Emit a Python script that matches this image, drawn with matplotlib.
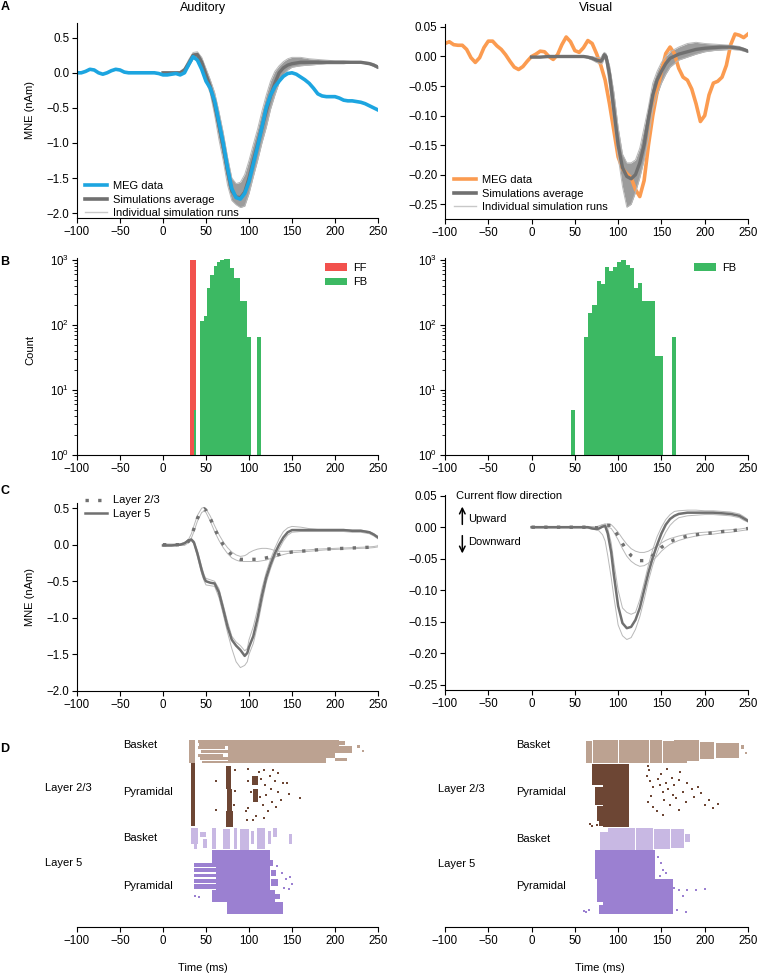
import numpy as np
import matplotlib
matplotlib.use('Agg')
import matplotlib.pyplot as plt
from matplotlib.lines import Line2D

plt.rcParams['font.family'] = ['Liberation Sans', 'DejaVu Sans']
plt.rcParams['font.size'] = 8
plt.rcParams['axes.linewidth'] = 0.8

# ***** datos
# MEG (cada 5 ms de -100 a 250)
t_meg = np.arange(-100, 251, 5)
aud_meg = [0.0, 0.0, 0.02, 0.05, 0.04, 0.0, -0.02, 0.0, 0.03, 0.05, 0.04, 0.01, 0.0, 0.0, 0.0, 0.0, 0.0, 0.0, 0.0, -0.01,
           -0.03, -0.03, -0.02, -0.01, -0.03, 0.0, 0.12, 0.23, 0.18, 0.05, -0.12, -0.22, -0.4, -0.7, -1.0, -1.35, -1.65,
           -1.78, -1.8, -1.72, -1.55, -1.3, -1.05, -0.78, -0.5, -0.32, -0.2, -0.12, -0.05, -0.01, 0.0, -0.02, -0.06,
           -0.1, -0.15, -0.22, -0.3, -0.33, -0.34, -0.34, -0.34, -0.36, -0.39, -0.4, -0.4, -0.41, -0.42, -0.44, -0.47,
           -0.5, -0.53]
vis_meg = [0.022, 0.025, 0.02, 0.019, 0.019, 0.012, -0.002, -0.01, -0.002, 0.015, 0.026, 0.026, 0.018, 0.012, 0.003,
           -0.008, -0.018, -0.022, -0.017, -0.008, 0.0, 0.004, 0.009, 0.008, 0.0, -0.005, 0.003, 0.02, 0.033, 0.025,
           0.01, 0.007, 0.015, 0.027, 0.022, 0.005, -0.015, -0.04, -0.08, -0.125, -0.17, -0.19, -0.198, -0.205,
           -0.225, -0.237, -0.21, -0.15, -0.1, -0.06, -0.025, 0.005, 0.016, 0.005, -0.02, -0.035, -0.04, -0.055,
           -0.08, -0.11, -0.1, -0.065, -0.045, -0.042, -0.035, -0.015, 0.02, 0.038, 0.036, 0.032, 0.038]

# simulaciones auditivas
t_aud = [0, 10, 20, 25, 30, 35, 40, 45, 50, 55, 60, 65, 70, 75, 80, 85, 90, 95, 100, 105, 110, 115, 120, 125, 130,
         135, 140, 145, 150, 160, 170, 180, 190, 200, 210, 220, 230, 240, 245, 250]
aud_avg = [0.0, 0.0, 0.0, 0.04, 0.14, 0.25, 0.26, 0.15, -0.03, -0.2, -0.45, -0.75, -1.05, -1.4, -1.68, -1.77, -1.78,
           -1.7, -1.5, -1.25, -1.02, -0.78, -0.55, -0.33, -0.15, 0.0, 0.07, 0.11, 0.13, 0.15, 0.15, 0.15, 0.15, 0.15,
           0.15, 0.15, 0.15, 0.13, 0.11, 0.08]
aud_hi = [0.01, 0.01, 0.02, 0.07, 0.19, 0.29, 0.3, 0.22, 0.06, -0.1, -0.28, -0.55, -0.85, -1.2, -1.5, -1.58, -1.56,
          -1.45, -1.25, -1.02, -0.8, -0.55, -0.32, -0.12, 0.02, 0.1, 0.16, 0.2, 0.22, 0.22, 0.2, 0.19, 0.18, 0.17,
          0.17, 0.16, 0.16, 0.15, 0.13, 0.1]
aud_lo = [-0.01, -0.01, -0.01, 0.01, 0.09, 0.2, 0.2, 0.06, -0.12, -0.3, -0.6, -0.95, -1.25, -1.6, -1.82, -1.88, -1.92,
          -1.9, -1.72, -1.48, -1.25, -1.0, -0.78, -0.52, -0.32, -0.14, -0.03, 0.04, 0.08, 0.1, 0.11, 0.12, 0.13,
          0.13, 0.13, 0.14, 0.14, 0.12, 0.09, 0.06]

# simulaciones visuales
t_vis = [0, 10, 20, 30, 40, 50, 60, 65, 70, 75, 80, 82, 84, 86, 88, 90, 95, 100, 105, 110, 115, 120, 125, 130, 135,
         140, 145, 150, 155, 160, 170, 180, 190, 200, 210, 220, 230, 240, 245, 250]
vis_avg = [-0.001, -0.001, 0.0, 0.0, 0.0, 0.0, 0.0, -0.001, -0.003, -0.006, -0.008, -0.004, 0.003, 0.0, -0.015, -0.03,
           -0.09, -0.15, -0.188, -0.203, -0.207, -0.2, -0.18, -0.15, -0.105, -0.065, -0.04, -0.025, -0.012, -0.003,
           0.004, 0.008, 0.012, 0.014, 0.015, 0.016, 0.016, 0.014, 0.012, 0.009]
vis_hi = [0.0, 0.0, 0.0, 0.0, 0.0, 0.001, 0.001, 0.0, 0.0, -0.002, -0.002, 0.003, 0.007, 0.005, -0.005, -0.015, -0.06,
          -0.12, -0.165, -0.18, -0.18, -0.175, -0.155, -0.12, -0.085, -0.045, -0.025, -0.01, 0.0, 0.008, 0.016,
          0.022, 0.024, 0.022, 0.021, 0.02, 0.019, 0.017, 0.014, 0.011]
vis_lo = [-0.002, -0.002, -0.001, -0.001, -0.001, -0.001, -0.001, -0.003, -0.006, -0.01, -0.013, -0.01, -0.003, -0.008,
          -0.03, -0.05, -0.11, -0.17, -0.22, -0.255, -0.25, -0.23, -0.205, -0.175, -0.14, -0.09, -0.065, -0.045,
          -0.03, -0.018, -0.006, -0.001, 0.004, 0.008, 0.01, 0.011, 0.012, 0.011, 0.009, 0.007]

# histogramas de entradas (FF / FB)
aud_ff_left = [31.7]
aud_ff_right = [38.2]
aud_ff_count = [1000]
aud_fb_left = [35.5, 43.3, 47.2, 51.1, 55.0, 58.9, 62.8, 66.7, 70.6, 74.5, 78.4, 82.3, 86.2, 90.1, 94.0, 97.9, 109.6]
aud_fb_right = [38.6, 47.2, 51.1, 55.0, 58.9, 62.8, 66.7, 70.6, 74.5, 78.4, 82.3, 86.2, 90.1, 94.0, 97.9, 101.8, 113.5]
aud_fb_count = [5, 117, 137, 366, 588, 818, 921, 1000, 1040, 1040, 745, 525, 525, 235, 235, 66, 66]
vis_fb_left = [45.6, 60.6, 65.4, 70.2, 75.0, 79.8, 84.6, 89.4, 94.2, 99.0, 103.8, 108.6, 113.4, 118.2, 123.0, 127.8,
               132.6, 137.4, 142.2, 147.0, 162.6]
vis_fb_right = [50.0, 65.4, 70.2, 75.0, 79.8, 84.6, 89.4, 94.2, 99.0, 103.8, 108.6, 113.4, 118.2, 123.0, 127.8, 132.6,
                137.4, 142.2, 147.0, 151.8, 166.8]
vis_fb_count = [5, 65, 155, 203, 475, 425, 790, 680, 790, 940, 1000, 840, 740, 365, 450, 230, 235, 235, 33, 33, 65]

# dipolos por capa
t_c = [0, 10, 20, 25, 30, 33, 36, 40, 45, 48, 50, 55, 60, 65, 70, 75, 80, 85, 90, 95, 98, 100, 105, 110, 115, 120,
       125, 130, 135, 140, 145, 150, 160, 170, 180, 190, 200, 210, 220, 230, 240, 245, 250]
aud_l23 = [0.0, 0.0, 0.0, 0.0, 0.05, 0.12, 0.22, 0.36, 0.47, 0.49, 0.47, 0.36, 0.22, 0.1, 0.0, -0.08, -0.14, -0.18,
           -0.2, -0.2, -0.2, -0.2, -0.2, -0.2, -0.19, -0.18, -0.165, -0.15, -0.135, -0.12, -0.11, -0.1, -0.09, -0.08,
           -0.07, -0.06, -0.055, -0.05, -0.045, -0.04, -0.035, -0.03, -0.02]
aud_l23_hi = [0.01, 0.01, 0.01, 0.02, 0.08, 0.15, 0.26, 0.4, 0.5, 0.51, 0.49, 0.39, 0.26, 0.14, 0.04, -0.04, -0.1,
              -0.14, -0.16, -0.15, -0.13, -0.11, -0.08, -0.06, -0.05, -0.05, -0.06, -0.08, -0.09, -0.09, -0.09,
              -0.085, -0.08, -0.07, -0.06, -0.055, -0.05, -0.045, -0.04, -0.035, -0.03, -0.025, -0.015]
aud_l23_lo = [-0.01, -0.01, -0.01, -0.01, 0.03, 0.09, 0.18, 0.32, 0.44, 0.46, 0.44, 0.32, 0.18, 0.06, -0.04, -0.12,
              -0.18, -0.21, -0.23, -0.23, -0.23, -0.23, -0.23, -0.23, -0.22, -0.21, -0.19, -0.17, -0.15, -0.135,
              -0.12, -0.11, -0.1, -0.09, -0.08, -0.07, -0.065, -0.06, -0.055, -0.05, -0.045, -0.04, -0.03]
aud_l5 = [-0.01, -0.01, 0.0, 0.02, 0.06, 0.07, 0.03, -0.12, -0.35, -0.46, -0.5, -0.52, -0.53, -0.65, -0.88, -1.12,
          -1.3, -1.38, -1.44, -1.52, -1.48, -1.4, -1.25, -1.0, -0.7, -0.45, -0.27, -0.12, 0.0, 0.1, 0.17, 0.2, 0.2,
          0.2, 0.2, 0.2, 0.2, 0.2, 0.19, 0.19, 0.17, 0.14, 0.1]
aud_l5_hi = [0.0, 0.0, 0.01, 0.03, 0.07, 0.08, 0.05, -0.08, -0.3, -0.42, -0.46, -0.48, -0.5, -0.6, -0.82, -1.05,
             -1.25, -1.33, -1.38, -1.45, -1.42, -1.3, -1.12, -0.88, -0.6, -0.38, -0.2, -0.05, 0.08, 0.18, 0.23,
             0.25, 0.24, 0.22, 0.21, 0.21, 0.21, 0.21, 0.2, 0.2, 0.18, 0.15, 0.11]
aud_l5_lo = [-0.02, -0.02, -0.01, 0.01, 0.05, 0.06, 0.01, -0.16, -0.4, -0.5, -0.55, -0.56, -0.57, -0.72, -0.95, -1.2,
             -1.42, -1.6, -1.68, -1.65, -1.6, -1.5, -1.35, -1.1, -0.8, -0.52, -0.33, -0.17, -0.06, 0.05, 0.13, 0.17,
             0.18, 0.18, 0.18, 0.18, 0.18, 0.18, 0.17, 0.17, 0.15, 0.12, 0.08]

t_cv = [0, 10, 20, 30, 40, 50, 60, 65, 70, 75, 78, 82, 85, 88, 92, 95, 100, 105, 110, 115, 120, 125, 130, 135, 140,
        145, 150, 155, 160, 165, 170, 180, 190, 200, 210, 220, 230, 240, 245, 250]
vis_l23 = [0.0, 0.0, 0.0, 0.0, 0.0, 0.0, 0.0, 0.0, 0.0, -0.001, 0.0, 0.002, 0.003, 0.003, 0.003, -0.003, -0.014,
           -0.026, -0.037, -0.045, -0.05, -0.053, -0.053, -0.05, -0.045, -0.039, -0.032, -0.027, -0.023, -0.02,
           -0.018, -0.014, -0.012, -0.01, -0.009, -0.007, -0.006, -0.004, -0.003, -0.002]
vis_l23_hi = [0.001, 0.001, 0.001, 0.001, 0.001, 0.001, 0.001, 0.001, 0.001, 0.0, 0.002, 0.004, 0.005, 0.005, 0.004,
              0.0, -0.008, -0.018, -0.027, -0.034, -0.038, -0.04, -0.04, -0.038, -0.034, -0.03, -0.025, -0.021,
              -0.018, -0.016, -0.014, -0.011, -0.009, -0.008, -0.007, -0.005, -0.004, -0.003, -0.002, -0.001]
vis_l23_lo = [-0.001, -0.001, -0.001, -0.001, -0.001, -0.001, -0.001, -0.001, -0.002, -0.003, -0.002, 0.0, 0.001,
              0.0, -0.002, -0.008, -0.02, -0.034, -0.046, -0.054, -0.059, -0.062, -0.061, -0.057, -0.052, -0.046,
              -0.038, -0.032, -0.027, -0.024, -0.021, -0.017, -0.014, -0.012, -0.011, -0.009, -0.008, -0.006,
              -0.005, -0.004]
vis_l5 = [0.0, 0.0, 0.0, 0.0, 0.0, 0.0, 0.0, 0.0, -0.002, -0.003, -0.002, 0.001, 0.002, -0.01, -0.04, -0.075, -0.125,
          -0.152, -0.16, -0.158, -0.147, -0.128, -0.1, -0.072, -0.048, -0.028, -0.01, 0.004, 0.013, 0.018, 0.021,
          0.023, 0.023, 0.023, 0.023, 0.022, 0.021, 0.018, 0.014, 0.01]
vis_l5_hi = [0.001, 0.001, 0.001, 0.001, 0.001, 0.001, 0.001, 0.001, 0.0, 0.0, 0.002, 0.004, 0.005, -0.002, -0.025,
             -0.055, -0.1, -0.128, -0.135, -0.138, -0.135, -0.115, -0.088, -0.06, -0.035, -0.015, 0.0, 0.012, 0.02,
             0.025, 0.026, 0.027, 0.027, 0.026, 0.026, 0.025, 0.024, 0.021, 0.017, 0.012]
vis_l5_lo = [-0.001, -0.001, -0.001, -0.001, -0.001, -0.001, -0.001, -0.002, -0.003, -0.004, -0.006, -0.012, -0.022,
             -0.045, -0.08, -0.11, -0.155, -0.172, -0.178, -0.175, -0.162, -0.142, -0.115, -0.085, -0.06, -0.04,
             -0.022, -0.008, 0.003, 0.01, 0.015, 0.018, 0.019, 0.02, 0.02, 0.019, 0.018, 0.015, 0.011, 0.008]

# raster: bloques (t0, t1, celda0, celda1) y espigas sueltas (t, celda)
# celdas: 0-35 cesta L2/3, 35-135 piramidal L2/3, 135-170 cesta L5, 170-270 piramidal L5
aud_l23b_blocks = [(30, 37.5, 0, 35), (41, 75, 0, 4), (42, 75, 5, 9), (41, 72, 10, 14), (44, 75, 15, 20),
                   (41, 70, 21, 26), (43, 75, 27, 31), (45, 75, 32, 35), (75, 205, 0, 10), (75, 220, 10, 20),
                   (75, 200, 20, 28), (75, 190, 28, 35), (190, 212, 2, 8), (200, 214, 28, 33), (226, 229, 8, 13),
                   (231, 234, 15, 19)]
aud_l23p_blocks = [(32, 37, 36, 132), (73, 79, 40, 75), (74, 80, 75, 110), (73, 81, 110, 134),
                   (104, 110, 55, 70), (105, 111, 75, 95)]
aud_l23p_spikes = [(61.8, 64), (61.8, 108), (84, 46), (84, 79), (83, 100), (99.4, 44), (99.4, 64), (99.4, 105),
                   (98, 123), (105, 123), (108, 118), (112, 50), (114, 60), (113, 88), (116, 100), (118, 47),
                   (119, 70), (120, 85), (122, 110), (124, 55), (125, 76), (127, 95), (128, 46), (130, 63),
                   (131, 104), (134, 51), (134, 80), (137, 92), (140, 66), (144, 67), (147, 84), (159, 90),
                   (102, 80), (96, 110), (118, 120)]
aud_l5b_blocks = [(33, 41, 136, 160), (36, 40, 160, 168), (43, 50, 142, 150), (47, 51, 152, 166), (57, 62, 136, 168),
                  (70, 78, 138, 168), (82, 86, 136, 168), (90, 100, 137, 169), (102, 106, 140, 160),
                  (109, 119, 136, 168), (122, 126, 140, 160), (128, 133, 136, 150), (147, 150, 145, 160)]
aud_l5p_blocks = [(57, 124, 170, 190), (36, 62, 190, 196), (36, 62, 198, 204), (36, 62, 206, 212),
                  (36, 62, 214, 220), (36, 62, 222, 230), (62, 124, 190, 232), (57, 130, 232, 250),
                  (74, 140, 250, 268), (124, 128, 185, 195), (125, 131, 200, 210), (126, 134, 215, 225),
                  (130, 136, 238, 246)]
aud_l5p_spikes = [(133, 195), (138, 205), (143, 215), (148, 212), (150, 222), (141, 228), (136, 260), (146, 230),
                  (37, 240), (42, 242)]

vis_l23b_blocks = [(63, 70, 2, 35), (71, 100, 0, 35), (101, 119, 0, 35), (120, 136, 0, 35), (137, 151, 0, 35),
                   (152, 164, 2, 35), (165, 179, 0, 35), (180, 193, 0, 33), (194, 211, 3, 30), (213, 240, 4, 28),
                   (242, 245, 8, 14), (246, 249, 18, 22)]
vis_l23p_blocks = [(82, 113, 37, 135), (70, 82, 37, 70), (73, 82, 72, 100), (76, 82, 102, 125), (78, 82, 125, 133)]
vis_l23p_spikes = [(134, 40), (136, 46), (133, 55), (137, 63), (140, 72), (138, 86), (135, 95), (140, 104),
                   (146, 60), (148, 70), (150, 52), (152, 80), (153, 92), (155, 66), (157, 45), (158, 76),
                   (160, 100), (162, 58), (163, 85), (165, 70), (167, 90), (170, 62), (172, 50), (175, 80),
                   (178, 95), (180, 67), (188, 88), (192, 72), (196, 82), (200, 100), (205, 93), (210, 105),
                   (215, 98), (145, 110), (152, 116), (170, 108), (185, 75), (68, 130), (70, 132), (75, 131)]
vis_l5b_blocks = [(88, 120, 136, 170), (79, 88, 142, 170), (121, 140, 136, 170), (141, 160, 137, 168),
                  (161, 176, 138, 166), (177, 183, 145, 158)]
vis_l5p_blocks = [(73, 143, 170, 215), (82, 163, 215, 268), (76, 82, 215, 250), (78, 82, 255, 268)]
vis_l5p_spikes = [(60, 264), (63, 265), (66, 263), (146, 180), (150, 190), (152, 200), (148, 210), (155, 205),
                  (158, 220), (165, 228), (170, 232), (180, 232), (190, 232), (200, 230), (175, 240), (168, 262),
                  (178, 265)]

# ***** estilos
BLUE = '#1ca5e0'
ORANGE = '#fb9b50'
GREY_AVG = '#707070'
GREY_RUN = '#b8b8b8'
BAND = '#9c9c9c'
RED = '#f2514d'
GREEN = '#3cb963'
C_L23B = '#bca291'
C_L23P = '#6d4634'
C_L5B = '#c8b8e3'
C_L5P = '#9b80d1'
W, H = 762.0, 976.0


def box(l, t, r, b):
    return [l / W, 1 - b / H, (r - l) / W, (b - t) / H]


def estilo(ax, left=True):
    ax.spines['top'].set_visible(False)
    ax.spines['right'].set_visible(False)
    ax.spines['left'].set_visible(left)
    ax.tick_params(direction='out', length=3.5, width=0.8, labelsize=8.3, pad=2)
    ax.set_xlim(-100, 250)
    ax.set_xticks(np.arange(-100, 251, 50))


def bloques(ax, blocks, color):
    for t0, t1, c0, c1 in blocks:
        ax.bar(t0, c1 - c0, width=t1 - t0, bottom=c0, align='edge', color=color, linewidth=0)


def espigas(ax, spikes, color):
    ax.plot([s[0] for s in spikes], [s[1] for s in spikes], 's', ms=2.0, mew=0, color=color)


def main():
    fig = plt.figure(figsize=(7.62, 9.76), dpi=100)

    # ***** A: MEG vs simulaciones
    axAL = fig.add_axes(box(77, 23, 378, 218))
    axAL.fill_between(t_aud, aud_lo, aud_hi, color=BAND, lw=0)
    axAL.plot(t_aud, aud_hi, color=GREY_RUN, lw=0.7)
    axAL.plot(t_aud, aud_lo, color=GREY_RUN, lw=0.7)
    axAL.plot(t_aud, aud_avg, color=GREY_AVG, lw=2.4)
    axAL.plot(t_meg, aud_meg, color=BLUE, lw=2.6)
    axAL.set_ylim(-2.07, 0.71)
    axAL.set_yticks([0.5, 0.0, -0.5, -1.0, -1.5, -2.0])
    estilo(axAL)
    h = [Line2D([], [], color=BLUE, lw=2.6), Line2D([], [], color=GREY_AVG, lw=2.6),
         Line2D([], [], color='#c8c8c8', lw=1.0)]
    axAL.legend(h, ['MEG data', 'Simulations average', 'Individual simulation runs'], loc='lower left',
                bbox_to_anchor=(0.027, 0.0), frameon=False, fontsize=8, borderpad=0, borderaxespad=0,
                labelspacing=0.3, handlelength=2.0, handletextpad=0.55)

    axAR = fig.add_axes(box(445, 24, 748, 219))
    axAR.plot(t_meg, vis_meg, color=ORANGE, lw=2.6)
    axAR.fill_between(t_vis, vis_lo, vis_hi, color=BAND, lw=0)
    axAR.plot(t_vis, vis_hi, color=GREY_RUN, lw=0.7)
    axAR.plot(t_vis, vis_lo, color=GREY_RUN, lw=0.7)
    axAR.plot(t_vis, vis_avg, color=GREY_AVG, lw=2.4)
    axAR.set_ylim(-0.275, 0.055)
    axAR.set_yticks([0.05, 0.0, -0.05, -0.1, -0.15, -0.2, -0.25])
    estilo(axAR)
    h = [Line2D([], [], color=ORANGE, lw=2.6), Line2D([], [], color=GREY_AVG, lw=2.6),
         Line2D([], [], color='#c8c8c8', lw=1.0)]
    axAR.legend(h, ['MEG data', 'Simulations average', 'Individual simulation runs'], loc='lower left',
                bbox_to_anchor=(0.03, 0.036), frameon=False, fontsize=8, borderpad=0, borderaxespad=0,
                labelspacing=0.3, handlelength=2.0, handletextpad=0.55)

    # ***** B: histogramas de entradas
    axBL = fig.add_axes(box(77, 258, 378, 455))
    axBL.set_yscale('log')
    axBL.bar(aud_ff_left, aud_ff_count, width=np.subtract(aud_ff_right, aud_ff_left), align='edge',
             color=RED, lw=0, label='FF')
    axBL.bar(aud_fb_left, aud_fb_count, width=np.subtract(aud_fb_right, aud_fb_left), align='edge',
             color=GREEN, lw=0, label='FB')
    axBL.set_ylim(1, 1072)
    estilo(axBL)
    axBL.legend(loc='upper left', bbox_to_anchor=(0.824, 0.975), frameon=False, fontsize=8, borderpad=0,
                borderaxespad=0, labelspacing=0.4, handlelength=2.0, handleheight=0.7, handletextpad=0.5)

    axBR = fig.add_axes(box(445, 258, 748, 455))
    axBR.set_yscale('log')
    axBR.bar(vis_fb_left, vis_fb_count, width=np.subtract(vis_fb_right, vis_fb_left), align='edge',
             color=GREEN, lw=0, label='FB')
    axBR.set_ylim(1, 1072)
    estilo(axBR)
    axBR.legend(loc='upper left', bbox_to_anchor=(0.822, 0.975), frameon=False, fontsize=8, borderpad=0,
                borderaxespad=0, handlelength=2.0, handleheight=0.7, handletextpad=0.5)

    # ***** C: dipolos por capa
    punteado = (0, (1, 2.8))
    axCL = fig.add_axes(box(77, 503, 378, 691))
    for serie in [aud_l23_hi, aud_l23_lo, aud_l5_hi, aud_l5_lo]:
        axCL.plot(t_c, serie, color=GREY_RUN, lw=0.7)
    axCL.plot(t_c, aud_l5, color=GREY_AVG, lw=1.8)
    axCL.plot(t_c, aud_l23, color=GREY_AVG, lw=2.4, ls=punteado, dash_capstyle='butt')
    axCL.set_ylim(-2.0, 0.57)
    axCL.set_yticks([0.5, 0.0, -0.5, -1.0, -1.5, -2.0])
    estilo(axCL)
    h = [Line2D([], [], color=GREY_AVG, lw=2.4, ls=punteado, dash_capstyle='butt'),
         Line2D([], [], color=GREY_AVG, lw=1.8)]
    axCL.legend(h, ['Layer 2/3', 'Layer 5'], loc='upper left', bbox_to_anchor=(0.027, 1.04), frameon=False,
                fontsize=8, borderpad=0, borderaxespad=0, labelspacing=0.3, handlelength=2.0,
                handletextpad=0.55)

    axCR = fig.add_axes(box(445, 495, 748, 690))
    for serie in [vis_l23_hi, vis_l23_lo, vis_l5_hi, vis_l5_lo]:
        axCR.plot(t_cv, serie, color=GREY_RUN, lw=0.7)
    axCR.plot(t_cv, vis_l5, color=GREY_AVG, lw=1.8)
    axCR.plot(t_cv, vis_l23, color=GREY_AVG, lw=2.4, ls=punteado, dash_capstyle='butt')
    axCR.set_ylim(-0.258, 0.051)
    axCR.set_yticks([0.05, 0.0, -0.05, -0.1, -0.15, -0.2, -0.25])
    estilo(axCR)
    axCR.text(-87, 0.05, 'Current flow direction', fontsize=8, va='center', ha='left')
    axCR.annotate('', xy=(-80, 0.037), xytext=(-80, 0.0),
                  arrowprops=dict(arrowstyle='->', lw=1.1, color='black', mutation_scale=10))
    axCR.annotate('', xy=(-80, -0.046), xytext=(-80, -0.009),
                  arrowprops=dict(arrowstyle='->', lw=1.1, color='black', mutation_scale=10))
    axCR.text(-73, 0.013, 'Upward', fontsize=8, va='center', ha='left')
    axCR.text(-73, -0.024, 'Downward', fontsize=8, va='center', ha='left')

    # ***** D: raster de espigas
    for caja, b23, p23, s23, b5, p5, s5, xl, xc, yl in [
            ((77, 735, 378, 927), aud_l23b_blocks, aud_l23p_blocks, aud_l23p_spikes, aud_l5b_blocks,
             aud_l5p_blocks, aud_l5p_spikes, -137, -46.5, (7.7, 80, 151, 225, 74, 190)),
            ((445, 735, 748, 927), vis_l23b_blocks, vis_l23p_blocks, vis_l23p_spikes, vis_l5b_blocks,
             vis_l5p_blocks, vis_l5p_spikes, -108.5, -18.3, (7.7, 81, 153, 226, 75.6, 191))]:
        ax = fig.add_axes(box(*caja))
        bloques(ax, b23, C_L23B)
        bloques(ax, p23, C_L23P)
        espigas(ax, s23, C_L23P)
        bloques(ax, b5, C_L5B)
        bloques(ax, p5, C_L5P)
        espigas(ax, s5, C_L5P)
        ax.set_ylim(288.5, -7.7)
        estilo(ax, left=False)
        ax.set_yticks([])
        for txt, y in zip(['Basket', 'Pyramidal', 'Basket', 'Pyramidal'], yl[:4]):
            ax.text(xc, y, txt, fontsize=8, va='center', ha='left', clip_on=False)
        ax.text(xl, yl[4], 'Layer 2/3', fontsize=8, va='center', ha='left', clip_on=False)
        ax.text(xl, yl[5], 'Layer 5', fontsize=8, va='center', ha='left', clip_on=False)

    # ***** textos de la figura
    fig.text(203 / W, 1 - 8 / H, 'Auditory', fontsize=9, ha='center', va='center')
    fig.text(596 / W, 1 - 8 / H, 'Visual', fontsize=9, ha='center', va='center')
    for letra, y in [('A', 7), ('B', 262), ('C', 491), ('D', 749)]:
        fig.text(5 / W, 1 - y / H, letra, fontsize=9, fontweight='bold', ha='center', va='center')
    fig.text(30 / W, 1 - 110 / H, 'MNE (nAm)', fontsize=8, rotation=90, ha='center', va='center')
    fig.text(30 / W, 1 - 350 / H, 'Count', fontsize=8, rotation=90, ha='center', va='center')
    fig.text(30 / W, 1 - 597 / H, 'MNE (nAm)', fontsize=8, rotation=90, ha='center', va='center')
    fig.text(203 / W, 1 - 968 / H, 'Time (ms)', fontsize=8, ha='center', va='center')
    fig.text(600 / W, 1 - 968 / H, 'Time (ms)', fontsize=8, ha='center', va='center')

    fig.savefig('out.png', dpi=100)


if __name__ == "__main__":
    main()
